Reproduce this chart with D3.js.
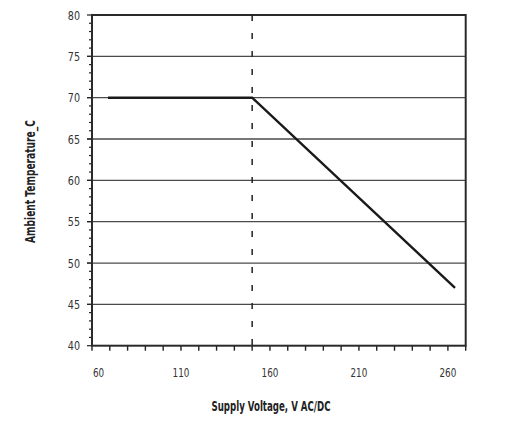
<!DOCTYPE html>
<html>
<head>
<meta charset="utf-8">
<script src="https://cdn.jsdelivr.net/npm/d3@7"></script>
<style>
  html, body { margin: 0; padding: 0; background: #fff; }
  svg { display: block; }
  .tick-label { font-family: "DejaVu Sans Condensed", "Liberation Sans Narrow", "Roboto", sans-serif; font-size: 12.5px; fill: #333; }
  .axis-title { font-family: "DejaVu Sans Condensed", "Liberation Sans Narrow", "Roboto", sans-serif; font-size: 13.5px; font-weight: bold; fill: #222; }
</style>
</head>
<body>
<svg id="chart" width="523" height="422"></svg>
<script>
// ---- data ----
const voltage = [69, 150, 264];          // Supply Voltage, V AC/DC
const temperature = [70, 70, 47];        // Ambient Temperature, C
const markerVoltage = [150];             // dashed reference line
const xTickLabels = [60, 110, 160, 210, 260];
const yTickLabels = [40, 45, 50, 55, 60, 65, 70, 75, 80];
const xDomain = [60, 270];
const yDomain = [40, 80];

// ---- layout ----
const svg = d3.select("#chart");
const L = 92, R = 465.7, T = 15, B = 345.7;
const x = d3.scaleLinear().domain(xDomain).range([L, R]);
const y = d3.scaleLinear().domain(yDomain).range([B, T]);

// gridlines (horizontal)
svg.append("g").selectAll("line")
  .data(yTickLabels.filter(v => v > yDomain[0] && v < yDomain[1]))
  .join("line")
  .attr("x1", L - 5).attr("x2", R)
  .attr("y1", d => y(d)).attr("y2", d => y(d))
  .attr("stroke", "#4a4a4a").attr("stroke-width", 1.3);

// minor y ticks
svg.append("g").selectAll("line")
  .data(d3.range(yDomain[0], yDomain[1] + 1, 1))
  .join("line")
  .attr("x1", d => d % 5 === 0 ? L - 5 : L - 3).attr("x2", L)
  .attr("y1", d => y(d)).attr("y2", d => y(d))
  .attr("stroke", "#222").attr("stroke-width", 1.2);

// x ticks every 10 V
svg.append("g").selectAll("line")
  .data(d3.range(xDomain[0], xDomain[1] + 1, 10))
  .join("line")
  .attr("x1", d => x(d)).attr("x2", d => x(d))
  .attr("y1", B).attr("y2", B + 5)
  .attr("stroke", "#222").attr("stroke-width", 1.4);

// frame
svg.append("rect")
  .attr("x", L).attr("y", T).attr("width", R - L).attr("height", B - T)
  .attr("fill", "none").attr("stroke", "#2a2a2a").attr("stroke-width", 2);

// dashed marker line
svg.append("g").selectAll("line")
  .data(markerVoltage)
  .join("line")
  .attr("x1", d => x(d)).attr("x2", d => x(d))
  .attr("y1", T).attr("y2", B)
  .attr("stroke", "#222").attr("stroke-width", 1.5)
  .attr("stroke-dasharray", "6,12");

// data line
const pts = voltage.map((v, i) => [v, temperature[i]]);
svg.append("path")
  .datum(pts)
  .attr("fill", "none")
  .attr("stroke", "#1a1a1a")
  .attr("stroke-width", 2.4)
  .attr("d", d3.line().x(d => x(d[0])).y(d => y(d[1])));

// y tick labels
svg.append("g").selectAll("text")
  .data(yTickLabels)
  .join("text")
  .attr("class", "tick-label")
  .attr("x", 80).attr("y", d => y(d))
  .attr("dy", "0.36em")
  .attr("text-anchor", "end")
  .attr("textLength", d => String(d).length * 6.1)
  .attr("lengthAdjust", "spacingAndGlyphs")
  .text(d => d);

// x tick labels
svg.append("g").selectAll("text")
  .data(xTickLabels)
  .join("text")
  .attr("class", "tick-label")
  .attr("x", (d, i) => i === 0 ? x(d) + 1 : x(d))
  .attr("y", 377)
  .attr("text-anchor", (d, i) => i === 0 ? "start" : "middle")
  .attr("textLength", d => String(d).length * 5.6)
  .attr("lengthAdjust", "spacingAndGlyphs")
  .text(d => d);

// axis titles
svg.append("text")
  .attr("class", "axis-title")
  .attr("x", 271).attr("y", 410.5)
  .attr("text-anchor", "middle")
  .attr("textLength", 119)
  .attr("lengthAdjust", "spacingAndGlyphs")
  .text("Supply Voltage, V AC/DC");

svg.append("text")
  .attr("class", "axis-title")
  .attr("transform", "translate(35,181.5) rotate(-90)")
  .attr("text-anchor", "middle")
  .attr("textLength", 123)
  .attr("lengthAdjust", "spacingAndGlyphs")
  .text("Ambient Temperature_C");
</script>
</body>
</html>
